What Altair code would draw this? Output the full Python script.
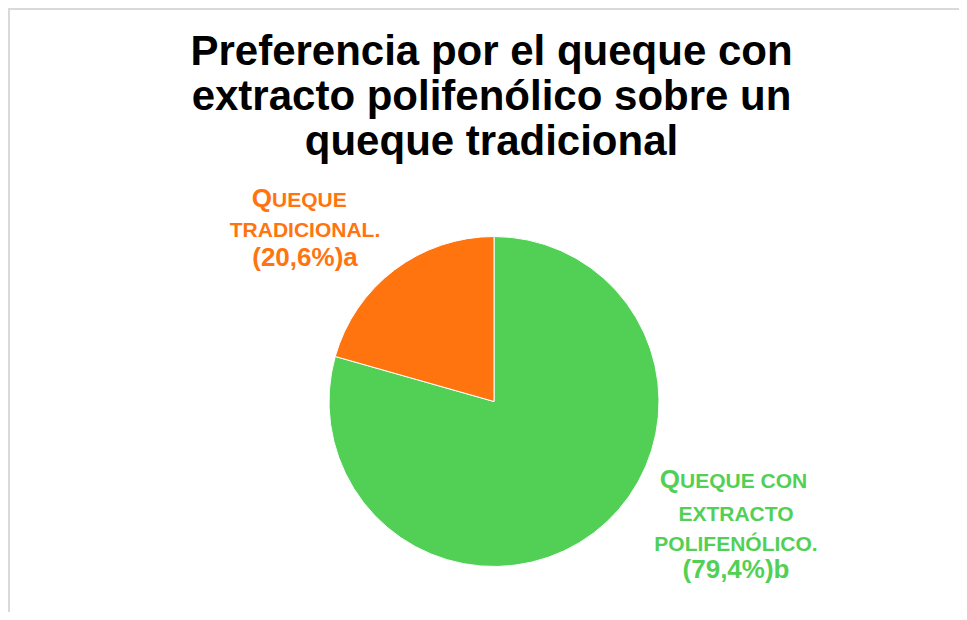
import altair as alt
import pandas as pd

# ---- data ----
categorias = ["Queque con extracto polifenólico", "Queque tradicional"]
porcentajes = [79.4, 20.6]
orden = [1, 2]
colores = ["#52D055", "#FF740F"]

titulo = ["Preferencia por el queque con", "extracto polifenólico sobre un", "queque tradicional"]

trad_inicial = "Q"
trad_linea1 = "UEQUE"
trad_lineas = "TRADICIONAL."
trad_pct = "(20,6%)a"

ext_inicial = "Q"
ext_linea1 = "UEQUE CON"
ext_lineas = "EXTRACTO\nPOLIFENÓLICO."
ext_pct = "(79,4%)b"

FONT = "Liberation Sans"
W, H = 951, 604
CX, CY = 486, 393.5


def texto(t, x, y, size, color, align="center", line_height=None):
    kw = dict(font=FONT, fontWeight="bold", fontSize=size, color=color,
              align=align, baseline="alphabetic", lineBreak="\n")
    if line_height:
        kw["lineHeight"] = line_height
    return alt.Chart(pd.DataFrame({"t": [t]})).mark_text(**kw).encode(
        text="t:N", x=alt.value(x), y=alt.value(y))


df = pd.DataFrame({"categoria": categorias, "porcentaje": porcentajes, "orden": orden})

pie = alt.Chart(df).mark_arc(outerRadius=165, stroke="white", strokeWidth=1).encode(
    theta=alt.Theta("porcentaje:Q", stack=True),
    color=alt.Color("categoria:N", scale=alt.Scale(domain=categorias, range=colores), legend=None),
    order=alt.Order("orden:Q"),
    x=alt.value(CX),
    y=alt.value(CY),
)

borde = pd.DataFrame({"a": [0]})
regla_sup = alt.Chart(borde).mark_rule(color="#d9d9d9", strokeWidth=2).encode(
    x=alt.value(0), x2=alt.value(W), y=alt.value(1))
regla_izq = alt.Chart(borde).mark_rule(color="#d9d9d9", strokeWidth=2).encode(
    x=alt.value(1), y=alt.value(0), y2=alt.value(H))

titulo_t = texto("\n".join(titulo), 483.5, 57, 42, "#000000", line_height=45)

c_trad = colores[1]
c_ext = colores[0]

capas = [
    regla_sup, regla_izq, pie, titulo_t,
    texto(trad_inicial, 264, 198.7, 26, c_trad, align="right"),
    texto(trad_linea1, 264, 198.7, 21, c_trad, align="left"),
    texto(trad_lineas, 297, 228.7, 21, c_trad),
    texto(trad_pct, 297, 258, 26, c_trad),
    texto(ext_inicial, 672, 480.3, 26, c_ext, align="right"),
    texto(ext_linea1, 672, 480.3, 21, c_ext, align="left"),
    texto(ext_lineas, 728, 512.7, 21, c_ext, line_height=30),
    texto(ext_pct, 728, 570.3, 26, c_ext),
]

chart = alt.layer(*capas).properties(
    width=W, height=H, autosize=alt.AutoSizeParams(type="none"), padding=0,
    background="white",
).configure_view(stroke=None)

chart.save("out.html", embed_options={"renderer": "svg", "actions": False})
